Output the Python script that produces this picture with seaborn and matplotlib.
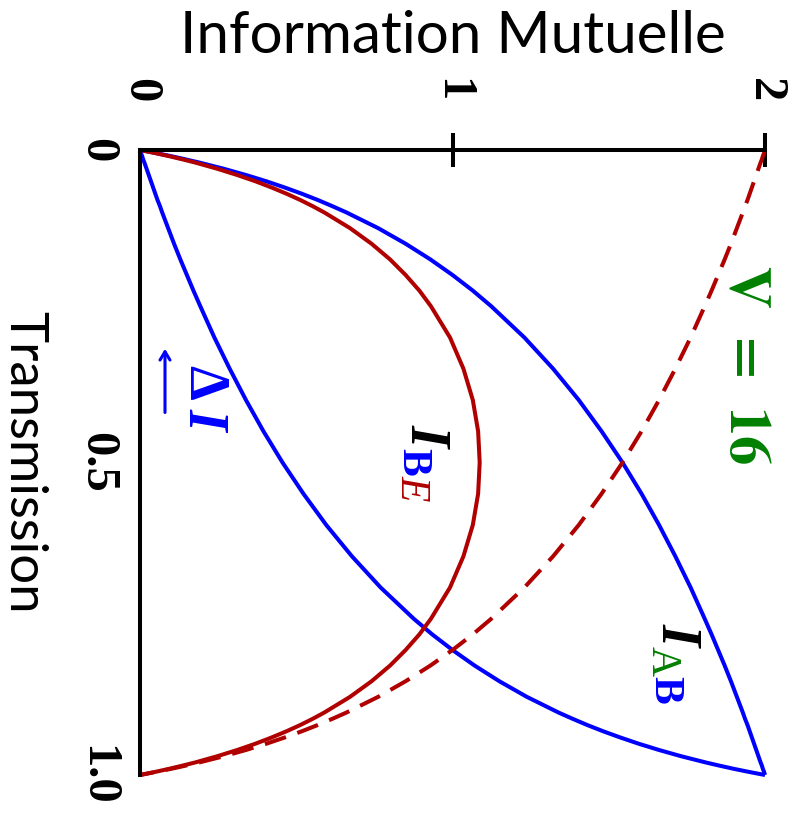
import matplotlib
matplotlib.use("Agg")
import matplotlib.pyplot as plt
import seaborn as sns

# Transmission of the channel (vertical axis, 0 at the top)
transmission = [0.000, 0.005, 0.010, 0.015, 0.020, 0.030, 0.040, 0.050, 0.060,
                0.070, 0.080, 0.090, 0.100, 0.125, 0.150, 0.175, 0.200, 0.225,
                0.250, 0.300, 0.350, 0.400, 0.450, 0.500, 0.550, 0.600, 0.650,
                0.700, 0.750, 0.775, 0.800, 0.825, 0.850, 0.875, 0.900, 0.910,
                0.920, 0.930, 0.940, 0.950, 0.960, 0.970, 0.980, 0.985, 0.990,
                0.995, 1.000]

# Mutual information between Alice and Bob
i_ab = [0.000, 0.052, 0.101, 0.146, 0.189, 0.268, 0.339, 0.404, 0.463,
        0.518, 0.569, 0.616, 0.661, 0.762, 0.850, 0.929, 1.000, 1.065,
        1.124, 1.230, 1.322, 1.404, 1.477, 1.544, 1.605, 1.661, 1.713,
        1.762, 1.807, 1.829, 1.850, 1.871, 1.891, 1.910, 1.929, 1.936,
        1.944, 1.951, 1.958, 1.965, 1.972, 1.979, 1.986, 1.990, 1.993,
        1.997, 2.000]

# Mutual information between Bob and Eve
i_be = [0.000, 0.049, 0.094, 0.136, 0.176, 0.247, 0.311, 0.369, 0.421,
        0.469, 0.513, 0.553, 0.590, 0.672, 0.741, 0.800, 0.850, 0.894,
        0.931, 0.992, 1.035, 1.065, 1.082, 1.087, 1.082, 1.065, 1.035,
        0.992, 0.931, 0.894, 0.850, 0.800, 0.741, 0.672, 0.590, 0.553,
        0.513, 0.469, 0.421, 0.369, 0.311, 0.247, 0.176, 0.136, 0.094,
        0.049, 0.000]

# Secret information available with reverse reconciliation
delta_i = [0.000, 0.003, 0.007, 0.010, 0.014, 0.021, 0.028, 0.035, 0.042,
           0.049, 0.056, 0.064, 0.071, 0.090, 0.109, 0.129, 0.150, 0.171,
           0.193, 0.238, 0.287, 0.339, 0.395, 0.456, 0.523, 0.596, 0.678,
           0.770, 0.876, 0.935, 1.000, 1.071, 1.150, 1.238, 1.339, 1.384,
           1.431, 1.482, 1.537, 1.596, 1.661, 1.732, 1.811, 1.854, 1.899,
           1.948, 2.000]

# Mutual information between Alice and Eve
i_ae = [2.000, 1.997, 1.993, 1.990, 1.986, 1.979, 1.972, 1.965, 1.958,
        1.951, 1.944, 1.936, 1.929, 1.910, 1.891, 1.871, 1.850, 1.829,
        1.807, 1.762, 1.713, 1.661, 1.605, 1.544, 1.477, 1.404, 1.322,
        1.230, 1.124, 1.065, 1.000, 0.929, 0.850, 0.762, 0.661, 0.616,
        0.569, 0.518, 0.463, 0.404, 0.339, 0.268, 0.189, 0.146, 0.101,
        0.052, 0.000]

info_ticks = [0, 1, 2]
info_tick_labels = ["0", "1", "2"]
trans_ticks = [0.0, 0.5, 1.0]
trans_tick_labels = ["0", "0.5", "1.0"]

sns.set_theme(style="white")
plt.rcParams["font.family"] = ["Lato", "DejaVu Sans"]
plt.rcParams["text.color"] = "black"
plt.rcParams["axes.labelcolor"] = "black"

BLUE = "#0000ff"
RED = "#b00000"
GREEN = "#008000"
LW = 2.9
SERIF = "Liberation Serif"

fig = plt.figure(figsize=(7.94, 8.16), dpi=100)
ax = fig.add_axes([140 / 794, 41 / 816, 625 / 794, 625 / 816])

line_kw = dict(sort=False, estimator=None, ax=ax, legend=False)
sns.lineplot(x=i_ab, y=transmission, color=BLUE, lw=LW, **line_kw)
sns.lineplot(x=delta_i, y=transmission, color=BLUE, lw=LW, **line_kw)
sns.lineplot(x=i_be, y=transmission, color=RED, lw=LW, **line_kw)
sns.lineplot(x=i_ae, y=transmission, color=RED, lw=LW,
             linestyle=(0, (5.5, 3.0)), **line_kw)
for ln in ax.lines:
    ln.set_clip_on(False)
    ln.set_solid_capstyle("butt")

ax.set_xlim(0, 2)
ax.set_ylim(1, 0)

for side in ("right", "bottom"):
    ax.spines[side].set_visible(False)
for side in ("top", "left"):
    ax.spines[side].set_linewidth(LW)
    ax.spines[side].set_color("black")

ax.xaxis.tick_top()
ax.xaxis.set_label_position("top")
tick_font = dict(fontfamily=SERIF, fontweight="bold", fontsize=35,
                 rotation=-90, color="black")
ax.set_xticks(info_ticks, info_tick_labels, **tick_font)
ax.set_yticks(trans_ticks, trans_tick_labels, va="center", **tick_font)
ax.tick_params(axis="both", direction="inout", length=24.5, width=LW,
               colors="black")
ax.tick_params(axis="x", pad=22)
ax.tick_params(axis="y", pad=3)
ax.xaxis.get_major_ticks()[0].tick2line.set_visible(False)
ax.yaxis.get_major_ticks()[0].tick1line.set_visible(False)

ax.set_xlabel("Information Mutuelle", fontsize=42)
ax.xaxis.set_label_coords(0.5, 1.181)
ax.xaxis.label.set_va("center")
ax.set_ylabel("Transmission", fontsize=38, rotation=-90, va="center",
              ha="center")
ax.yaxis.set_label_coords(-0.186, 0.5)

txt = dict(rotation=-90, ha="center", va="center")
# I_BE
ax.text(0.915, 0.456, "I", color="black", fontfamily=SERIF, fontweight="bold",
        fontstyle="italic", fontsize=41, **txt)
ax.text(0.870, 0.499, "B", color=BLUE, fontfamily=SERIF, fontweight="bold",
        fontsize=30, **txt)
ax.text(0.870, 0.541, "E", color=RED, fontfamily=SERIF, fontstyle="italic",
        fontsize=30, **txt)
# I_AB
ax.text(1.718, 0.774, "I", color="black", fontfamily=SERIF, fontweight="bold",
        fontstyle="italic", fontsize=41, **txt)
ax.text(1.670, 0.818, "A", color=GREEN, fontfamily=SERIF, fontsize=30, **txt)
ax.text(1.677, 0.864, "B", color=BLUE, fontfamily=SERIF, fontweight="bold",
        fontsize=30, **txt)
# V = 16
ax.text(1.942, 0.344, r"$\mathbf{V}\;\,\mathbf{=}\;\,\mathbf{16}$",
        color=GREEN, math_fontfamily="stix", fontsize=42, **txt)
# Delta I with its arrow underneath
ax.text(0.202, 0.372, "\u0394", color=BLUE, fontfamily=SERIF, fontweight="bold",
        fontsize=40, **txt)
ax.text(0.202, 0.43, "I", color=BLUE, fontfamily=SERIF, fontweight="bold",
        fontstyle="italic", fontsize=40, **txt)
ax.annotate("", xy=(0.08, 0.318), xytext=(0.08, 0.42),
            arrowprops=dict(arrowstyle="->, head_length=0.5, head_width=0.3",
                            color=BLUE, lw=2.2, shrinkA=0, shrinkB=0))

fig.savefig("out.png", dpi=100)
